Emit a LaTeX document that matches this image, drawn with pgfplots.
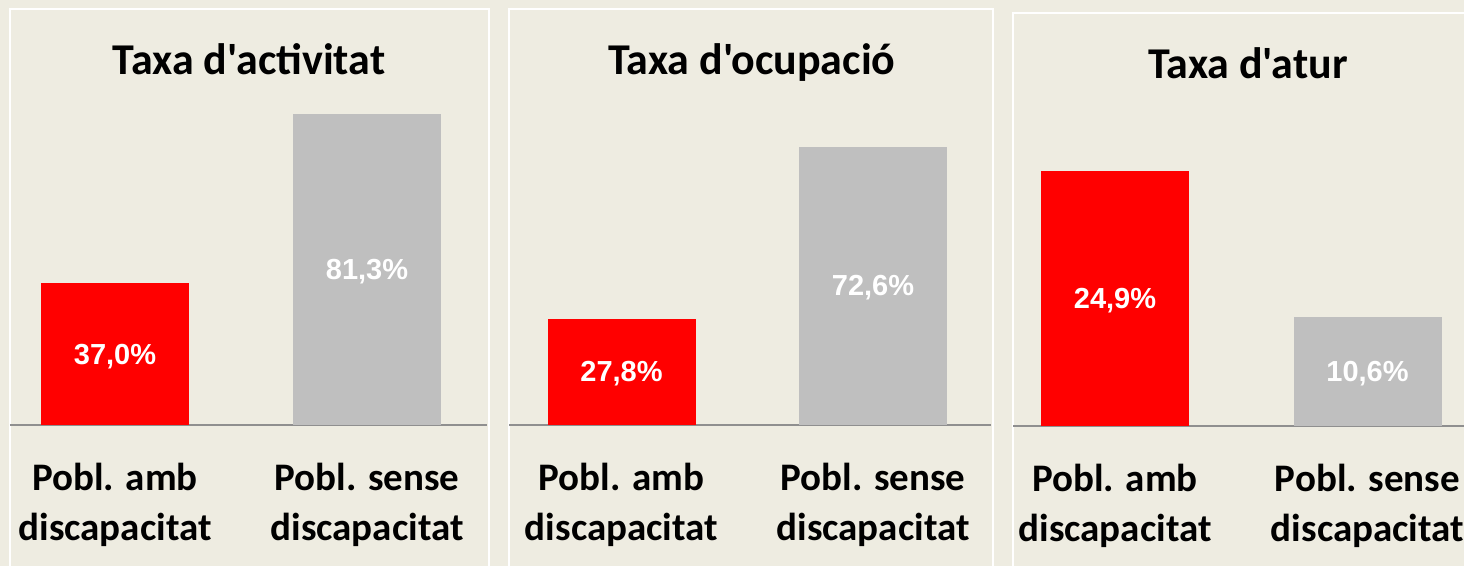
\documentclass[border=0pt]{standalone}
\usepackage{pgfplots}
\pgfplotsset{compat=1.18}
\usepackage{fontspec}
\setmainfont{Carlito}
\newfontfamily\titlefont{Carlito}[Ligatures=TeXOff]
\newfontfamily\valfont{Liberation Sans}
\definecolor{bg}{HTML}{EEECE1}
\definecolor{barred}{HTML}{FF0000}
\definecolor{bargray}{HTML}{BFBFBF}
\definecolor{baseln}{HTML}{8F8F8F}
\pgfplotsset{
  panel/.style={
    ybar, bar width=74pt, bar shift=0pt,
    x=0.5pt,
    anchor=south west,
    ymin=0,
    clip=false,
    axis x line=bottom, axis y line=none,
    x axis line style={-, draw=baseln, line width=0.8pt},
    major tick length=0pt,
    ytick=\empty,
    xticklabel style={font=\bfseries\fontsize{19.5}{25}\selectfont, align=center, anchor=north, inner sep=0pt, yshift=-19pt},
    nodes near coords={\pgfmathprintnumber[fixed,fixed zerofill,precision=1,use comma,assume math mode=true]{\rawy}\%},
    visualization depends on={y \as \rawy},
    every node near coord/.append style={font=\valfont\bfseries\fontsize{14.5}{17}\selectfont, text=white, anchor=center},
  }
}
\begin{document}
\begin{tikzpicture}
\useasboundingbox (0,0) rectangle (732pt,283pt);
\fill[bg] (0,0) rectangle (732pt,283pt);
\draw[white, line width=1pt] (4.75pt,0pt) -- (4.75pt,278.25pt) -- (244.25pt,278.25pt) -- (244.25pt,0pt);
\draw[white, line width=1pt] (254.25pt,0pt) -- (254.25pt,278.25pt) -- (496.25pt,278.25pt) -- (496.25pt,0pt);
\draw[white, line width=1pt] (506.25pt,0pt) -- (506.25pt,276.5pt) -- (732pt,276.5pt);

\begin{axis}[panel, y=1.915pt, at={(5pt,70.5pt)}, xmin=10, xmax=487, ymax=90,
  every node near coord/.append style={yshift=-\rawy*0.9575pt-1pt},
  xtick={115,367}, xticklabels={{Pobl. amb\\discapacitat},{Pobl. sense\\discapacitat}}]
\addplot[fill=barred, draw=none] coordinates {(115,37.0)};
\addplot[fill=bargray, draw=none] coordinates {(367,81.3)};
\end{axis}

\begin{axis}[panel, y=1.915pt, at={(254.5pt,70.5pt)}, xmin=509, xmax=991, ymax=90,
  every node near coord/.append style={yshift=-\rawy*0.9575pt-1pt},
  xtick={621.5,873}, xticklabels={{Pobl. amb\\discapacitat},{Pobl. sense\\discapacitat}}]
\addplot[fill=barred, draw=none] coordinates {(621.5,27.8)};
\addplot[fill=bargray, draw=none] coordinates {(873,72.6)};
\end{axis}

\begin{axis}[panel, y=5.125pt, at={(506.5pt,70pt)}, xmin=1013, xmax=1464, ymax=30,
  every node near coord/.append style={yshift=-\rawy*2.5625pt-1pt},
  xtick={1115,1367.5}, xticklabels={{Pobl. amb\\discapacitat},{Pobl. sense\\discapacitat}}]
\addplot[fill=barred, draw=none] coordinates {(1115,24.9)};
\addplot[fill=bargray, draw=none] coordinates {(1367.5,10.6)};
\end{axis}

\node[font=\titlefont\bfseries\fontsize{22}{26}\selectfont, anchor=base] at (124.5pt,245.5pt) {Taxa d'activitat};
\node[font=\titlefont\bfseries\fontsize{22}{26}\selectfont, anchor=base] at (376pt,245.5pt) {Taxa d'ocupació};
\node[font=\titlefont\bfseries\fontsize{22}{26}\selectfont, anchor=base] at (624pt,243.5pt) {Taxa d'atur};
\end{tikzpicture}
\end{document}
